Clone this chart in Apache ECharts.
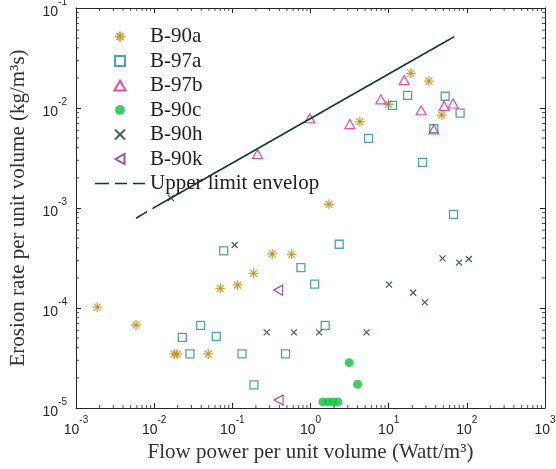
<!DOCTYPE html>
<html>
<head>
<meta charset="utf-8">
<script src="https://cdn.jsdelivr.net/npm/echarts@6/dist/echarts.min.js"></script>
<style>html,body{margin:0;padding:0;background:#fff;}#c{width:556px;height:469px;}</style>
</head>
<body>
<div id="c"></div>
<script>
// ---- data ----
const b90aX = [0.00187, 0.00586, 0.0180, 0.0197, 0.0492, 0.070, 0.117, 0.187, 0.324, 0.573, 1.72, 4.28, 9.97, 19.2, 32.7, 47.9];
const b90aY = [1.02e-4, 6.76e-5, 3.47e-5, 3.47e-5, 3.47e-5, 1.57e-4, 1.70e-4, 2.22e-4, 3.47e-4, 3.44e-4, 1.09e-3, 7.3e-3, 1.09e-2, 2.22e-2, 1.86e-2, 8.5e-3];

const b97aX = [0.0229, 0.0287, 0.0393, 0.0622, 0.0775, 0.133, 0.189, 0.48, 0.754, 1.13, 1.54, 2.33, 5.53, 11.2, 17.5, 27.1, 37.8, 52.8, 67.6, 82];
const b97aY = [5.09e-5, 3.47e-5, 6.71e-5, 5.2e-5, 3.72e-4, 3.47e-5, 1.7e-5, 3.47e-5, 2.53e-4, 1.73e-4, 6.71e-5, 4.34e-4, 4.98e-3, 1.064e-2, 1.34e-2, 2.86e-3, 6.2e-3, 1.31e-2, 8.65e-4, 8.9e-3];

const b97bX = [0.21, 0.98, 3.19, 7.94, 15.8, 26.0, 37.8, 51.3, 66.8];
const b97bY = [3.47e-3, 7.9e-3, 6.9e-3, 1.22e-2, 1.9e-2, 9.5e-3, 6.1e-3, 1.05e-2, 1.11e-2];

const b90cX = [1.44, 1.68, 1.95, 2.25, 3.13, 4.0];
const b90cY = [1.15e-5, 1.15e-5, 1.15e-5, 1.15e-5, 2.84e-5, 1.73e-5];

const b90hX = [0.0164, 0.107, 0.275, 0.614, 1.29, 5.21, 10.1, 20.6, 29, 48.9, 79.6, 106];
const b90hY = [1.26e-3, 4.27e-4, 5.71e-5, 5.71e-5, 5.71e-5, 5.71e-5, 1.71e-4, 1.42e-4, 1.14e-4, 3.14e-4, 2.84e-4, 3.09e-4];

const b90kX = [0.386, 0.39];
const b90kY = [1.51e-4, 1.2e-5];

// upper limit envelope (start, start of solid part, end of solid part, end)
const envX = [0.00585, 0.01186, 52.3, 79];
const envY = [7.9e-4, 1.09e-3, 0.0457, 0.055];

const xRange = [1e-3, 1e3];
const yRange = [1e-5, 1e-1];
const xDecades = [-3, 3];
const yDecades = [-5, -1];

const names = ['B-90a', 'B-97a', 'B-97b', 'B-90c', 'B-90h', 'B-90k', 'Upper limit envelop'];

// ---- helpers ----
function zip(xs, ys) { return xs.map((x, i) => [x, ys[i]]); }
function minorVals(lo, hi) {
  const out = [];
  for (let e = lo; e < hi; e++) for (let m = 2; m <= 9; m++) out.push(m * Math.pow(10, e));
  return out;
}
const xMinor = minorVals(xDecades[0], xDecades[1]);
const yMinor = minorVals(yDecades[0], yDecades[1]);

const SERIF = 'Liberation Serif';
const SANS = 'Liberation Sans';
const AX = '#262626';
const TK = '#262626';
const ENV = '#0b3b2b';
const GOLD = '#c4901c';

function powLabel(v) {
  const e = Math.round(Math.log10(v));
  return '{b|10}{s|' + e + '}';
}
const tickRich = {
  b: { fontSize: 14, fontFamily: SANS, color: AX, verticalAlign: 'bottom', lineHeight: 22 },
  s: { fontSize: 10, fontFamily: SANS, color: AX, verticalAlign: 'top', lineHeight: 22 }
};

const asteriskPath = 'path://M0,-5L0,5M-5,0L5,0M-3.5,-3.5L3.5,3.5M-3.5,3.5L3.5,-3.5M-1.1,-1.1L1.1,-1.1L1.1,1.1L-1.1,1.1Z';
const xPath = 'path://M-3,-3L3,3M-3,3L3,-3';
const squarePath = 'path://M-4,-4L4,-4L4,4L-4,4Z';
const triUpPath = 'path://M0,-4.5L5,4.5L-5,4.5Z';
const triLeftPath = 'path://M-4.5,0L4.5,-5L4.5,5Z';
const dashIconPath = 'path://M0,0h14v1.6h-14zM20,0h12v1.6h-12zM38,0h12v1.6h-12z';

function tickSeries(data, size, offset) {
  return { type: 'scatter', data: data, symbol: 'rect', symbolSize: size, symbolOffset: offset,
    clip: false, silent: true, z: 10, itemStyle: { color: TK } };
}
function axisParts() {
  return {
    axisLine: { show: true, lineStyle: { color: AX, width: 1 } },
    axisTick: { show: true, inside: true, length: 5, lineStyle: { color: TK, width: 1 } },
    splitLine: { show: false }
  };
}

const chart = echarts.init(document.getElementById('c'));
const option = {
  animation: false,
  backgroundColor: '#fff',
  grid: { left: 76, right: 11, top: 8, bottom: 61, containLabel: false, outerBoundsMode: 'none' },
  legend: {
    data: names.map(n => n === 'Upper limit envelop' ? { name: n, icon: dashIconPath } : { name: n }),
    orient: 'vertical',
    left: 90,
    top: 21,
    itemWidth: 50,
    itemHeight: 10,
    itemGap: 3.5,
    symbolKeepAspect: true,
    textStyle: { fontFamily: SERIF, fontSize: 21, color: '#222', lineHeight: 21 },
    selectedMode: false
  },
  xAxis: [Object.assign({
    type: 'log', min: xRange[0], max: xRange[1],
    name: 'Flow power per unit volume (Watt/m³)', nameLocation: 'middle', nameGap: 29,
    nameTextStyle: { fontFamily: SERIF, fontSize: 21, color: '#333' },
    axisLabel: { margin: 7, formatter: powLabel, rich: tickRich }
  }, axisParts()), Object.assign({
    type: 'log', min: xRange[0], max: xRange[1], position: 'top',
    axisLabel: { show: false }
  }, axisParts())],
  yAxis: [Object.assign({
    type: 'log', min: yRange[0], max: yRange[1],
    name: 'Erosion rate per unit volume (kg/m³s)', nameLocation: 'middle', nameGap: 47,
    nameTextStyle: { fontFamily: SERIF, fontSize: 21, color: '#333' },
    axisLabel: { margin: 9, formatter: powLabel, rich: tickRich }
  }, axisParts()), Object.assign({
    type: 'log', min: yRange[0], max: yRange[1], position: 'right',
    axisLabel: { show: false }
  }, axisParts())],
  series: [
    { name: 'B-90a', type: 'scatter', data: zip(b90aX, b90aY), symbol: asteriskPath, symbolSize: 10,
      itemStyle: { color: GOLD, borderColor: GOLD, borderWidth: 1.3 } },
    { name: 'B-97a', type: 'scatter', data: zip(b97aX, b97aY), symbol: squarePath, symbolSize: 8,
      itemStyle: { color: 'rgba(0,0,0,0)', borderColor: '#218da3', borderWidth: 1.3 } },
    { name: 'B-97b', type: 'scatter', data: zip(b97bX, b97bY), symbol: triUpPath, symbolSize: [10, 9],
      itemStyle: { color: 'rgba(0,0,0,0)', borderColor: '#e0208c', borderWidth: 1.2 } },
    { name: 'B-90c', type: 'scatter', data: zip(b90cX, b90cY), symbol: 'circle', symbolSize: 9,
      itemStyle: { color: '#12c03f' } },
    { name: 'B-90h', type: 'scatter', data: zip(b90hX, b90hY), symbol: xPath, symbolSize: 6,
      itemStyle: { color: 'rgba(0,0,0,0)', borderColor: '#0c3b2c', borderWidth: 1.2 } },
    { name: 'B-90k', type: 'scatter', data: zip(b90kX, b90kY), symbol: triLeftPath, symbolSize: [9, 10],
      itemStyle: { color: 'rgba(0,0,0,0)', borderColor: '#7d2e7e', borderWidth: 1.2 } },
    { name: 'Upper limit envelop', type: 'line', data: zip(envX.slice(0, 2), envY.slice(0, 2)), symbol: 'none', showSymbol: false,
      lineStyle: { color: ENV, width: 1.5, type: [13, 6] }, itemStyle: { color: ENV } },
    { name: 'Upper limit envelop', type: 'line', data: zip(envX.slice(1, 3), envY.slice(1, 3)), symbol: 'none', showSymbol: false,
      lineStyle: { color: ENV, width: 1.5, type: 'solid' }, itemStyle: { color: ENV } },
    { name: 'Upper limit envelop', type: 'line', data: zip(envX.slice(2, 4), envY.slice(2, 4)), symbol: 'none', showSymbol: false,
      lineStyle: { color: ENV, width: 1.5, type: [13, 6], dashOffset: 2 }, itemStyle: { color: ENV } },
    // minor ticks (2..9 x 10^k) on the four sides of the frame
    tickSeries(xMinor.map(v => [v, yRange[0]]), [1, 3], [0, -1.5]),
    tickSeries(xMinor.map(v => [v, yRange[1]]), [1, 3], [0, 1.5]),
    tickSeries(yMinor.map(v => [xRange[0], v]), [3, 1], [1.5, 0]),
    tickSeries(yMinor.map(v => [xRange[1], v]), [3, 1], [-1.5, 0])
  ]
};
chart.setOption(option);
</script>
</body>
</html>
